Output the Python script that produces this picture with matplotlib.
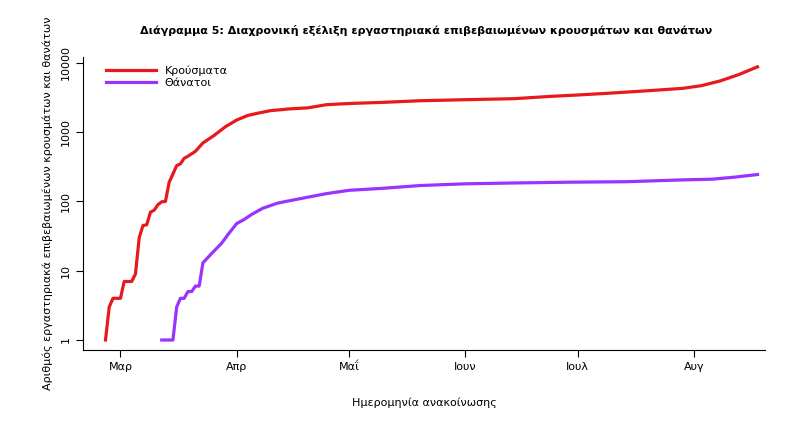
import matplotlib
matplotlib.use("Agg")
import matplotlib.pyplot as plt
import matplotlib.dates as mdates
import numpy as np
import datetime as dt

# days offset from 2020-03-01
case_days = [-4, -3, -2, -1, 0, 1, 2, 3, 4, 5, 6, 7, 8, 9, 10, 11, 12, 13, 14, 15, 16, 17, 18,
             20, 22, 25, 28, 31, 34, 37, 40, 45, 50, 55, 61, 70, 80, 92, 105, 115, 122, 130, 140,
             150, 155, 160, 165, 170]
cases = [1, 3, 4, 4, 4, 7, 7, 7, 9, 30, 45, 46, 70, 75, 90, 99, 100, 190, 250, 330, 350, 420, 450,
         530, 700, 900, 1200, 1500, 1750, 1900, 2050, 2170, 2250, 2500, 2600, 2700, 2850, 2950,
         3050, 3300, 3450, 3650, 3950, 4300, 4700, 5500, 6800, 8800]
death_days = [11, 13, 14, 15, 16, 17, 18, 19, 20, 21, 22, 24, 27, 29, 31, 33, 35, 38, 42, 48,
              55, 61, 70, 80, 92, 105, 120, 135, 150, 158, 164, 170]
deaths = [1, 1, 1, 3, 4, 4, 5, 5, 6, 6, 13, 17, 25, 35, 48, 55, 65, 80, 95, 110,
          130, 145, 155, 170, 180, 185, 190, 193, 205, 210, 225, 245]
month_ticks = ["Μαρ", "Απρ", "Μαΐ", "Ιουν", "Ιουλ", "Αυγ"]

base = dt.date(2020, 3, 1)
cd = [base + dt.timedelta(days=d) for d in case_days]
ddd = [base + dt.timedelta(days=d) for d in death_days]

fig = plt.figure(figsize=(8.04, 4.23), dpi=100)
ax = fig.add_axes([83/804, 1-350/423, (765-83)/804, (350-57)/423])
ax.plot(cd, cases, color="#e8191c", lw=2.3, label="Κρούσματα", solid_joinstyle="round")
ax.plot(ddd, deaths, color="#9933ff", lw=2.3, label="Θάνατοι", solid_joinstyle="round")
ax.set_yscale("log")
ax.set_ylim(0.717, 12200)
ax.set_xlim(base + dt.timedelta(days=-10), base + dt.timedelta(days=172))
ax.set_yticks([1, 10, 100, 1000, 10000])
ax.set_yticklabels(["1", "10", "100", "1000", "10000"], rotation=90, va="center", fontsize=8)
ax.yaxis.set_minor_locator(matplotlib.ticker.NullLocator())
ax.set_xticks([dt.date(2020, m, 1) for m in range(3, 9)])
ax.set_xticklabels(month_ticks, fontsize=8)
for s in ["top", "right"]:
    ax.spines[s].set_visible(False)
ax.tick_params(direction="out", length=5)
ax.set_xlabel("Ημερομηνία ανακοίνωσης", fontsize=8, labelpad=18)
ax.set_ylabel("Αριθμός εργαστηριακά επιβεβαιωμένων κρουσμάτων και θανάτων", fontsize=8, labelpad=6)
ax.legend(loc="upper left", frameon=False, fontsize=8, handlelength=4.5, borderaxespad=0.4,
          bbox_to_anchor=(0.02, 1.0), labelspacing=0.1)
fig.text(0.53, 1-30/423, "Διάγραμμα 5: Διαχρονική εξέλιξη εργαστηριακά επιβεβαιωμένων κρουσμάτων και θανάτων",
         ha="center", va="center", fontsize=8, fontweight="bold")
fig.savefig("out.png", dpi=100)
